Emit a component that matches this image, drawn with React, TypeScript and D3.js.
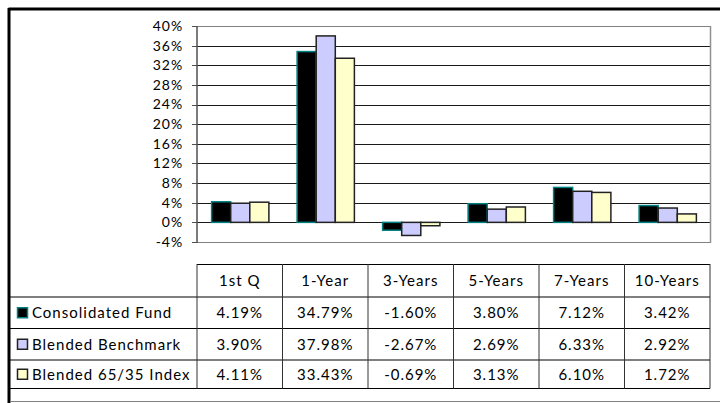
import React from 'react';
import * as d3 from 'd3';

const categories = ['1st Q', '1-Year', '3-Years', '5-Years', '7-Years', '10-Years'];
const seriesNames = ['Consolidated Fund', 'Blended Benchmark', 'Blended 65/35 Index'];
const consolidated = [4.19, 34.79, -1.6, 3.8, 7.12, 3.42];
const benchmark = [3.9, 37.98, -2.67, 2.69, 6.33, 2.92];
const blended = [4.11, 33.43, -0.69, 3.13, 6.1, 1.72];
const yTicks = [-4, 0, 4, 8, 12, 16, 20, 24, 28, 32, 36, 40];

const seriesValues = [consolidated, benchmark, blended];
const fills = ['#000000', '#ccccff', '#ffffcc'];
const strokes = ['#008080', '#222222', '#222222'];

const W = 720;
const H = 403;
const font = 'Lato, "Open Sans", sans-serif';

export default function App() {
  const plot = { left: 197, right: 710, top: 26, bottom: 242 };
  const y = d3.scaleLinear().domain([-4, 40]).range([plot.bottom, plot.top]);
  const x0 = d3.scaleBand<string>()
    .domain(categories)
    .range([plot.left, plot.right])
    .paddingInner(0.33)
    .paddingOuter(0.165);
  const x1 = d3.scaleBand<number>().domain([0, 1, 2]).range([0, x0.bandwidth()]);
  const step = x0.step();

  // table rows
  const headTop = 264;
  const rowEdges = [297, 328.5, 360, 388.5];

  const fmt = (v: number) => v.toFixed(2) + '%';

  return (
    <div style={{ position: 'fixed', left: 0, top: 0 }}>
      <svg width={W} height={H} style={{ display: 'block', background: '#fff' }}>
        {/* outer frame */}
        <line x1={8.5} y1={9} x2={W} y2={9} stroke="#000" strokeWidth={3} />
        <line x1={9} y1={8} x2={9} y2={H} stroke="#000" strokeWidth={3} />
        <line x1={10} y1={401.5} x2={W} y2={401.5} stroke="#808080" strokeWidth={1} />

        {/* gridlines */}
        {yTicks.map(t => (
          <line key={'g' + t} x1={plot.left} x2={plot.right} y1={Math.round(y(t)) + 0.5} y2={Math.round(y(t)) + 0.5}
            stroke={t === 40 || t === -4 ? '#808080' : '#1a1a1a'} strokeWidth={1} />
        ))}
        <line x1={plot.right + 0.5} x2={plot.right + 0.5} y1={plot.top} y2={plot.bottom + 1} stroke="#909090" strokeWidth={1.5} />

        {/* bars */}
        {categories.map((c, i) => (
          <g key={c} transform={`translate(${x0(c)},0)`}>
            {seriesValues.map((vals, s) => {
              const v = vals[i];
              const y0 = y(0);
              const yv = y(v);
              return (
                <rect key={s} x={(x1(s) as number) + 0.5} y={Math.min(y0, yv)} width={x1.bandwidth()}
                  height={Math.abs(yv - y0)} fill={fills[s]} stroke={strokes[s]} strokeWidth={1.5} />
              );
            })}
          </g>
        ))}

        {/* y axis */}
        <line x1={plot.left} x2={plot.left} y1={plot.top} y2={plot.bottom + 1} stroke="#505050" strokeWidth={1.5} />
        {yTicks.map(t => (
          <g key={'t' + t}>
            <line x1={plot.left - 5} x2={plot.left} y1={Math.round(y(t)) + 0.5} y2={Math.round(y(t)) + 0.5} stroke="#505050" />
            <text x={183} y={y(t)} dy="0.35em" textAnchor="end" fontFamily={font} fontSize={14} letterSpacing={0.9} fill="#000">{t}%</text>
          </g>
        ))}

        {/* data table */}
        <g fontFamily={font} fontSize={15} letterSpacing={1} fill="#000">
          <line x1={plot.left} x2={plot.right} y1={headTop + 0.5} y2={headTop + 0.5} stroke="#000" />
          {rowEdges.map((r, k) => (
            <line key={'r' + k} x1={10} x2={plot.right} y1={r} y2={r} stroke="#000" />
          ))}
          {d3.range(categories.length + 1).map(k => (
            <line key={'v' + k} x1={plot.left + k * step} x2={plot.left + k * step} y1={headTop} y2={rowEdges[3]} stroke="#333" />
          ))}
          {categories.map(c => (
            <text key={'h' + c} x={(x0(c) as number) + x0.bandwidth() / 2} y={(headTop + rowEdges[0]) / 2} dy="0.35em" textAnchor="middle">{c}</text>
          ))}
          {seriesNames.map((name, s) => {
            const top = rowEdges[s];
            const bottom = rowEdges[s + 1];
            const cy = (top + bottom) / 2;
            return (
              <g key={name}>
                <rect x={17.5} y={cy - 5} width={10} height={10} fill={fills[s]} stroke={strokes[s]} strokeWidth={1.5} />
                <text x={32} y={cy} dy="0.35em">{name}</text>
                {seriesValues[s].map((v, i) => (
                  <text key={i} x={(x0(categories[i]) as number) + x0.bandwidth() / 2} y={cy} dy="0.35em" textAnchor="middle">{fmt(v)}</text>
                ))}
              </g>
            );
          })}
        </g>
      </svg>
    </div>
  );
}
